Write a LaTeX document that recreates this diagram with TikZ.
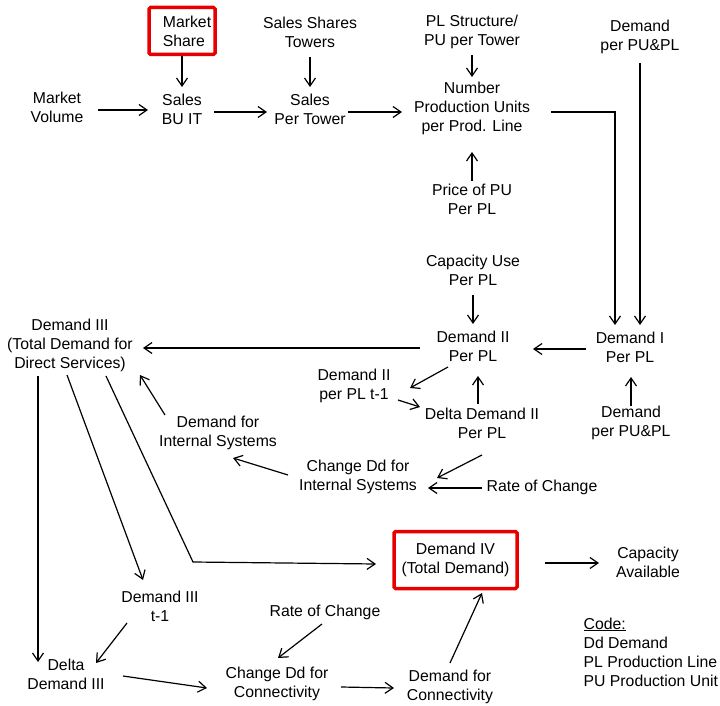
\documentclass[tikz,border=0pt]{standalone}
\usepackage{fontspec}
\setmainfont{Liberation Sans}
\usetikzlibrary{arrows.meta}
\definecolor{boxred}{RGB}{232,0,0}
\tikzstyle{var} = [align=center, inner sep=0pt, font=\fontsize{15.8}{19}\selectfont]
\tikzstyle{keyvar} = [var, rectangle, draw=boxred, line width=3.5pt, rounded corners=1.5pt]

\begin{document}
\begin{tikzpicture}[->,>={Straight Barb[length=8pt,width=11pt]},line width=1.2pt,x=1pt,y=-1pt]
  \useasboundingbox (0,0) rectangle (720,706);

  % sales chain
  \node[keyvar, minimum width=66pt, minimum height=47pt, align=left] (ms) at (182,31) {\hspace*{10pt}Market\\\hspace*{10pt}Share};
  \node[var] (sst) at (310,32) {Sales Shares\\Towers};
  \node[var] (pls) at (472,32) {PL Structure/\\PU per Tower};
  \node[var] (dpt) at (640,37) {Demand\\per PU\&PL};
  \node[var] (mv) at (57,107) {Market\\Volume};
  \node[var] (sbu) at (182,109) {Sales\\BU IT};
  \node[var] (spt) at (310,109) {Sales\\Per Tower};
  \node[var] (npu) at (472,108) {Number\\Production Units\\per Prod. Line};
  \node[var] (ppu) at (472,199) {Price of PU\\Per PL};

  % demand per production line
  \node[var] (cap) at (473,270) {Capacity Use\\Per PL};
  \node[var] (d3) at (70,345) {Demand III\\(Total Demand for\\Direct Services)};
  \node[var] (d2) at (473,346) {Demand II\\Per PL};
  \node[var] (d1) at (630,347) {Demand I\\Per PL};
  \node[var] (d2t) at (354,386) {Demand II\\per PL t-1};
  \node[var] (dd2) at (482,423) {Delta Demand II\\Per PL};
  \node[var] (dpb) at (631,423) {Demand\\per PU\&PL};
  \node[var] (dis) at (218,433) {Demand for\\Internal Systems};
  \node[var] (cdi) at (358,477) {Change Dd for\\Internal Systems};
  \node[var] (roc1) at (542,487) {Rate of Change};

  % total demand
  \node[keyvar, minimum width=123pt, minimum height=57pt] (d4) at (455.5,560) {Demand IV\\(Total Demand)};
  \node[var] (ca) at (648,562) {Capacity\\Available};
  \node[var] (d3t) at (160,606) {Demand III\\t-1};
  \node[var] (roc2) at (325,612) {Rate of Change};
  \node[var] (dd3) at (66,674) {Delta\\Demand III};
  \node[var] (cdc) at (277,684) {Change Dd for\\Connectivity};
  \node[var] (dfc) at (450,687) {Demand for\\Connectivity};

  \node[var, align=left, anchor=north west] (code) at (583,617) {\underline{Code:}\\Dd Demand\\PL Production Line\\PU Production Unit};

  \draw (ms.south) -- ([shift={(0,-22)}]sbu.center);
  \draw ([shift={(0,25)}]sst.center) -- ([shift={(0,-22)}]spt.center);
  \draw ([shift={(0,23)}]pls.center) -- ([shift={(0,-31)}]npu.center);
  \draw ([shift={(41,3)}]mv.center) -- ([shift={(-34,1)}]sbu.center);
  \draw ([shift={(32,3)}]sbu.center) -- ([shift={(-43,3)}]spt.center);
  \draw ([shift={(38,3)}]spt.center) -- ([shift={(-70,4)}]npu.center);
  \draw ([shift={(0,-18)}]ppu.center) -- ([shift={(0,44)}]npu.center);
  \draw ([shift={(79,4)}]npu.center) -| ([shift={(-15,-22)}]d1.center);
  \draw ([shift={(0,26)}]dpt.center) -- ([shift={(10,-22)}]d1.center);

  \draw ([shift={(0,25)}]cap.center) -- ([shift={(0,-22)}]d2.center);
  \draw ([shift={(-44,2)}]d1.center) -- ([shift={(60,3)}]d2.center);
  \draw ([shift={(-53,2)}]d2.center) -- ([shift={(73,3)}]d3.center);
  \draw ([shift={(-25,21)}]d2.center) -- ([shift={(56,2)}]d2t.center);
  \draw ([shift={(44,14)}]d2t.center) -- ([shift={(-62,-16)}]dd2.center);
  \draw ([shift={(-4,-19)}]dd2.center) -- ([shift={(5,30)}]d2.center);
  \draw ([shift={(0,-17)}]dpb.center) -- ([shift={(1,30)}]d1.center);
  \draw ([shift={(0,32)}]dd2.center) -- ([shift={(79,1)}]cdi.center);
  \draw ([shift={(-60,1)}]roc1.center) -- ([shift={(70,11)}]cdi.center);
  \draw ([shift={(-70,-2)}]cdi.center) -- ([shift={(15,25)}]dis.center);
  \draw ([shift={(-53,-18)}]dis.center) -- ([shift={(70,30)}]d3.center);

  \draw ([shift={(-32,31)}]d3.center) -- ([shift={(-28,-12)}]dd3.center);
  \draw ([shift={(-3,30)}]d3.center) -- ([shift={(-17,-26)}]d3t.center);
  \draw ([shift={(36,31)}]d3.center) -- ([shift={(-262.5,2)}]d4.center) -- ([shift={(-79.5,4)}]d4.center);
  \draw ([shift={(89.5,3)}]d4.center) -- ([shift={(-49,1)}]ca.center);
  \draw ([shift={(-33,17)}]d3t.center) -- ([shift={(30,-11)}]dd3.center);
  \draw ([shift={(57,2)}]dd3.center) -- ([shift={(-70,4)}]cdc.center);
  \draw ([shift={(-3,12)}]roc2.center) -- ([shift={(1,-26)}]cdc.center);
  \draw ([shift={(64,3)}]cdc.center) -- ([shift={(-56,1)}]dfc.center);
  \draw ([shift={(0,-24)}]dfc.center) -- ([shift={(26.5,33)}]d4.center);
\end{tikzpicture}
\end{document}
